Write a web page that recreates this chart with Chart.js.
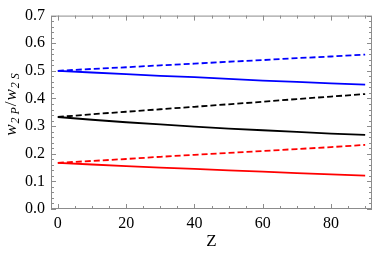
<!DOCTYPE html>
<html>
<head>
<meta charset="utf-8">
<script src="https://cdn.jsdelivr.net/npm/chart.js@4.4.1/dist/chart.umd.min.js"></script>
<style>
  html, body { margin: 0; padding: 0; background: #fff; }
  #wrap { width: 374px; height: 257px; }
</style>
</head>
<body>
<div id="wrap"><canvas id="chart" width="374" height="257"></canvas></div>
<script>
// datos
const zValues = [0, 10, 20, 30, 40, 50, 60, 70, 80, 90];
const blueSolid  = [0.500, 0.494, 0.488, 0.482, 0.477, 0.471, 0.465, 0.460, 0.455, 0.450];
const blueDashed = [0.500, 0.507, 0.513, 0.520, 0.526, 0.533, 0.539, 0.546, 0.552, 0.559];
const blackSolid = [0.333, 0.323, 0.314, 0.306, 0.298, 0.291, 0.285, 0.279, 0.273, 0.268];
const blackDashed = [0.333, 0.343, 0.352, 0.361, 0.370, 0.379, 0.388, 0.398, 0.407, 0.416];
const redSolid   = [0.167, 0.161, 0.155, 0.150, 0.145, 0.140, 0.135, 0.130, 0.125, 0.121];
const redDashed  = [0.167, 0.174, 0.181, 0.189, 0.196, 0.203, 0.210, 0.217, 0.224, 0.232];
const xTicks = [0, 20, 40, 60, 80];
const yTicks = [0, 0.1, 0.2, 0.3, 0.4, 0.5, 0.6, 0.7];

function toPoints(ys) {
    return zValues.map((z, i) => ({ x: z, y: ys[i] }));
}

function serie(ys, color, dashed) {
    return {
        data: toPoints(ys),
        borderColor: color,
        borderWidth: 1.8,
        borderDash: dashed ? [6, 3] : [],
        pointRadius: 0,
        fill: false,
        tension: 0
    };
}

// marco con marcas hacia adentro y titulos de ejes
const framePlugin = {
    id: 'frame',
    afterDraw(chart) {
        const ctx = chart.ctx;
        const a = chart.chartArea;
        const xs = chart.scales.x;
        const ys = chart.scales.y;
        ctx.save();
        ctx.strokeStyle = '#8c8c8c';
        ctx.lineWidth = 1;
        ctx.strokeRect(a.left + 0.5, a.top + 0.5, a.right - a.left - 1, a.bottom - a.top - 1);

        ctx.beginPath();
        for (let v = 0; v <= 90; v += 5) {
            const px = Math.round(xs.getPixelForValue(v)) + 0.5;
            const len = (v % 20 === 0) ? 5 : 3;
            ctx.moveTo(px, a.bottom); ctx.lineTo(px, a.bottom - len);
            ctx.moveTo(px, a.top); ctx.lineTo(px, a.top + len);
        }
        for (let k = 0; k <= 35; k++) {
            const v = k * 0.02;
            const py = Math.round(ys.getPixelForValue(v)) + 0.5;
            const len = (k % 5 === 0) ? 5 : 3;
            ctx.moveTo(a.left, py); ctx.lineTo(a.left + len, py);
            ctx.moveTo(a.right, py); ctx.lineTo(a.right - len, py);
        }
        ctx.stroke();

        // titulo eje x
        ctx.fillStyle = '#000';
        ctx.font = '17px "Liberation Serif"';
        ctx.textAlign = 'center';
        ctx.textBaseline = 'middle';
        ctx.fillText('Z', (a.left + a.right) / 2, 242);

        // titulo eje y: w_{2P}/w_{2S}
        ctx.translate(11, 104);
        ctx.rotate(-Math.PI / 2);
        const parts = [
            { t: 'w', f: 'italic 17px "Liberation Serif"', dy: 0 },
            { t: '2 P', f: 'italic 12px "Liberation Serif"', dy: 3 },
            { t: '/', f: '17px "Liberation Serif"', dy: 0 },
            { t: 'w', f: 'italic 17px "Liberation Serif"', dy: 0 },
            { t: '2 S', f: 'italic 12px "Liberation Serif"', dy: 3 }
        ];
        let total = 0;
        parts.forEach(p => { ctx.font = p.f; total += ctx.measureText(p.t).width + 1; });
        let x = -total / 2;
        ctx.textAlign = 'left';
        ctx.textBaseline = 'alphabetic';
        parts.forEach(p => {
            ctx.font = p.f;
            ctx.fillText(p.t, x, 5 + p.dy);
            x += ctx.measureText(p.t).width + 1;
        });
        ctx.restore();
    }
};

const ctx = document.getElementById('chart').getContext('2d');
const chart = new Chart(ctx, {
    type: 'line',
    data: {
        datasets: [
            serie(blueDashed, '#0000ff', true),
            serie(blueSolid, '#0000ff', false),
            serie(blackDashed, '#000000', true),
            serie(blackSolid, '#000000', false),
            serie(redDashed, '#ff0000', true),
            serie(redSolid, '#ff0000', false)
        ]
    },
    options: {
        responsive: false,
        animation: false,
        devicePixelRatio: 1,
        layout: { padding: { left: 0, right: 2, top: 10, bottom: 0 } },
        plugins: { legend: { display: false }, tooltip: { enabled: false } },
        scales: {
            x: {
                type: 'linear',
                min: -2,
                max: 92,
                grid: { display: false, drawTicks: false },
                border: { display: false },
                afterBuildTicks: s => { s.ticks = xTicks.map(v => ({ value: v })); },
                afterFit: s => { s.height = 48; },
                ticks: {
                    padding: 5,
                    color: '#000',
                    font: { family: 'Liberation Serif', size: 16 },
                    maxRotation: 0
                }
            },
            y: {
                type: 'linear',
                min: 0,
                max: 0.7,
                grid: { display: false, drawTicks: false },
                border: { display: false },
                afterBuildTicks: s => { s.ticks = yTicks.map(v => ({ value: v })); },
                afterFit: s => { s.width = 51; },
                ticks: {
                    padding: 6,
                    color: '#000',
                    font: { family: 'Liberation Serif', size: 16 },
                    callback: v => Number(v).toFixed(1)
                }
            }
        }
    },
    plugins: [framePlugin]
});
</script>
</body>
</html>
